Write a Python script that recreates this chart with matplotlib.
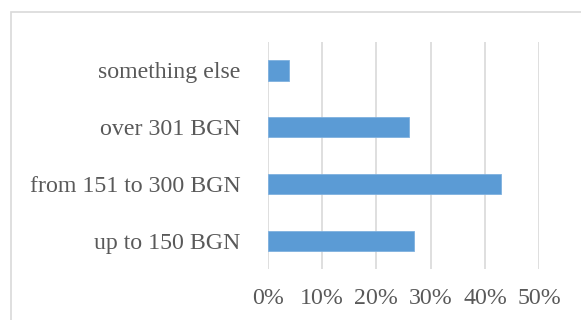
import matplotlib
matplotlib.use('Agg')
import matplotlib.pyplot as plt
from matplotlib.patches import Rectangle

# data
categories = ['up to 150 BGN', 'from 151 to 300 BGN', 'over 301 BGN', 'something else']
shares = [27, 43, 26, 4]
xticks = [0, 10, 20, 30, 40, 50]

plt.rcParams['font.family'] = ['Liberation Serif', 'DejaVu Serif']

fig = plt.figure(figsize=(5.81, 3.2), dpi=100)
ax = fig.add_axes([0.4608, 0.1584, 0.4675, 0.7103])

# outer chart frame (clipped at right and bottom like the original)
fig.patches.append(Rectangle((11 / 581, -0.1), 1.2, 1 - 12 / 320 + 0.1,
                             transform=fig.transFigure, fill=False,
                             edgecolor='#d9d9d9', linewidth=1.2, zorder=0))

ypos = list(range(len(categories)))
ax.barh(ypos, shares, height=0.36, color='#5b9bd5', edgecolor='#7fb1df',
        linewidth=0.6, zorder=3)

ax.set_xlim(0, 50)
ax.set_ylim(-0.5, len(categories) - 0.5)
ax.set_xticks(xticks)
ax.set_xticklabels([f'{t}%' for t in xticks])
ax.set_yticks(ypos)
ax.set_yticklabels(categories)
ax.grid(axis='x', color='#d9d9d9', linewidth=1.2, zorder=0)
ax.set_axisbelow(True)
for s in ax.spines.values():
    s.set_visible(False)
ax.tick_params(axis='both', length=0, labelsize=17.2, labelcolor='#595959')
ax.tick_params(axis='y', pad=19.5)
ax.tick_params(axis='x', pad=13.5)

plt.savefig('out.png', dpi=100)
